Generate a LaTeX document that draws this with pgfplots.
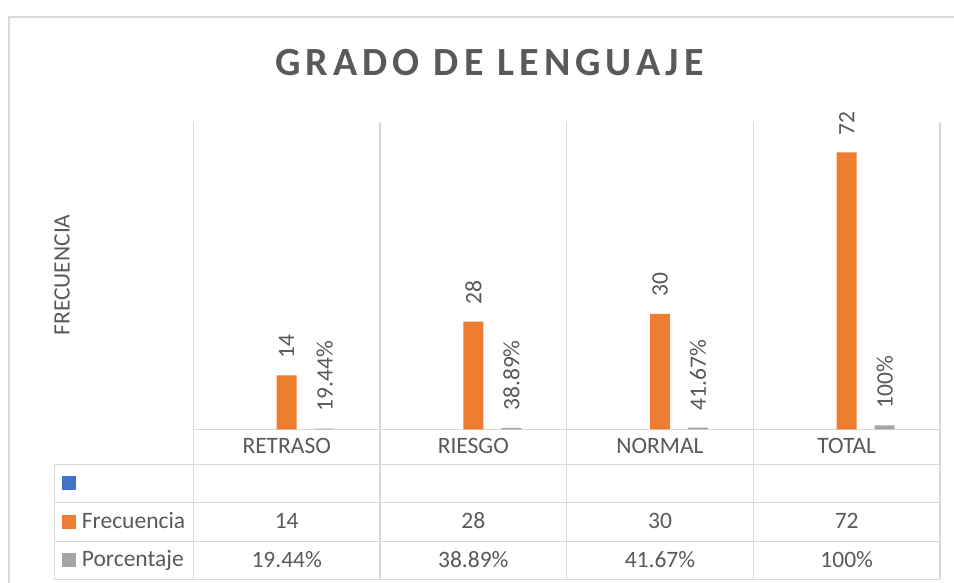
\documentclass[border=0pt]{standalone}
\usepackage{pgfplots}
\pgfplotsset{compat=1.18}
\usepackage{pgfplotstable}
\usepackage{fontspec}
\setmainfont{Carlito}
\definecolor{txt}{HTML}{595959}
\definecolor{gridc}{HTML}{D9D9D9}
\definecolor{orng}{HTML}{ED7D31}
\definecolor{gry}{HTML}{A5A5A5}
\definecolor{blu}{HTML}{4472C4}

\pgfplotstableread{
x freq
0 14
1 28
2 30
3 72
}\freqtable
\pgfplotstableread{
x pct pctlabel
0 0.1944 19.44
1 0.3889 38.89
2 0.4167 41.67
3 1.0 100
}\pcttable

\newcommand{\lab}{\fontsize{23.5bp}{28bp}\selectfont}

\begin{document}
\begin{tikzpicture}
\begin{scope}[x=1bp,y=-1bp]
\useasboundingbox (0,0) rectangle (954,583);
% outer border
\draw[gridc, line width=2bp] (9,583) -- (9,17) -- (954,17);
% grid and table lines
\begin{scope}[gridc, line width=1.4bp]
\foreach \xx in {193.3,380,566.7,753.3,940} {\draw (\xx,121.7) -- (\xx,579.3);}
\draw (193.3,429.3) -- (940,429.3);
\foreach \yy in {464.3,502.7,541.7,579.3} {\draw (54.3,\yy) -- (940,\yy);}
\draw (54.3,464.3) -- (54.3,579.3);
\end{scope}
\end{scope}

\begin{axis}[
  at={(193.3bp,-429.3bp)}, anchor=south west,
  scale only axis, width=746.7bp, height=307.6bp,
  xmin=-0.5, xmax=3.5, ymin=0, ymax=80,
  hide axis, xtick=\empty, ytick=\empty,
  ybar, bar width=20bp,
  clip=false,
  /pgf/number format/assume math mode=true,
  nodes near coords,
  every node near coord/.append style={rotate=90, anchor=west, inner xsep=17bp, inner ysep=0pt, text=txt, font=\lab},
]
\addplot[fill=orng, draw=none, bar shift=0bp] table[x=x,y=freq] {\freqtable};
\addplot[fill=gry, draw=none, bar shift=38bp, point meta=explicit,
  nodes near coords={\pgfmathprintnumber[fixed,precision=2,assume math mode=true]{\pgfplotspointmeta}\%}]
  table[x=x,y=pct,meta=pctlabel] {\pcttable};
\end{axis}

\begin{scope}[x=1bp,y=-1bp, every node/.style={inner sep=0pt, text=txt, font=\lab}]
% title
\node[anchor=base, font=\fontsize{40bp}{48bp}\selectfont\bfseries\addfontfeature{LetterSpace=12.5}] at (489.5,76) {GRADO DE LENGUAJE};
% y label
\node[rotate=90, anchor=center] at (62,275) {FRECUENCIA};
% category labels
\node[anchor=base] at (286.7,453.3) {RETRASO};
\node[anchor=base] at (473.3,453.3) {RIESGO};
\node[anchor=base] at (660,453.3) {NORMAL};
\node[anchor=base] at (846.7,453.3) {TOTAL};
% legend keys
\fill[blu] (62.3,476) rectangle (76,489.7);
\fill[orng] (62.3,515) rectangle (76,528.7);
\fill[gry] (62.3,553.3) rectangle (76,567);
\node[anchor=base west] at (81.7,528.3) {Frecuencia};
\node[anchor=base west] at (81.7,566.7) {Porcentaje};
% values
\node[anchor=base] at (286.7,528.5) {14};
\node[anchor=base] at (473.3,528.5) {28};
\node[anchor=base] at (660,528.5) {30};
\node[anchor=base] at (846.7,528.5) {72};
\node[anchor=base] at (286.7,567) {19.44\%};
\node[anchor=base] at (473.3,567) {38.89\%};
\node[anchor=base] at (660,567) {41.67\%};
\node[anchor=base] at (846.7,567) {100\%};
\end{scope}
\end{tikzpicture}
\end{document}
